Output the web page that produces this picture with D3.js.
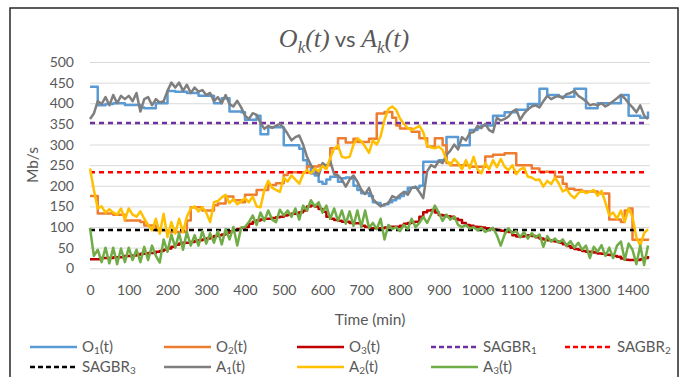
<!DOCTYPE html>
<html><head><meta charset="utf-8">
<script src="https://cdn.jsdelivr.net/npm/d3@7"></script>
<style>
body{margin:0;background:#fff;}
svg{display:block;}
</style></head><body>
<svg id="c" width="689" height="377"></svg>
<script>
// ---------- DATA ----------
const minutes = [
0,10,20,30,40,50,60,70,80,90,
100,110,120,130,140,150,160,170,180,190,
200,210,220,230,240,250,260,270,280,290,
300,310,320,330,340,350,360,370,380,390,
400,410,420,430,440,450,460,470,480,490,
500,510,520,530,540,550,560,570,580,590,
600,610,620,630,640,650,660,670,680,690,
700,710,720,730,740,750,760,770,780,790,
800,810,820,830,840,850,860,870,880,890,
900,910,920,930,940,950,960,970,980,990,
1000,1010,1020,1030,1040,1050,1060,1070,1080,1090,
1100,1110,1120,1130,1140,1150,1160,1170,1180,1190,
1200,1210,1220,1230,1240,1250,1260,1270,1280,1290,
1300,1310,1320,1330,1340,1350,1360,1370,1380,1390,
1400,1410,1420,1430,1440];

const o1 = [
440,440,395,395,398,398,400,400,400,396,
396,396,396,390,388,388,388,400,400,400,
430,430,428,428,428,425,425,425,418,418,
418,418,400,400,412,412,380,380,380,378,
360,360,360,370,325,325,342,342,342,342,
298,298,298,298,290,262,250,230,225,210,
205,215,222,222,210,218,220,218,200,190,
182,182,175,160,158,152,155,160,165,170,
175,185,195,195,195,200,258,258,258,258,
262,262,318,318,318,298,298,298,335,335,
340,346,346,346,370,370,370,378,378,378,
384,384,384,398,398,398,435,435,420,420,
420,416,416,416,416,435,435,435,388,388,
388,400,400,400,400,400,400,420,420,370,
370,370,365,365,380];

const o2 = [
175,175,133,133,133,133,130,130,130,116,
116,116,116,112,104,104,104,92,92,92,
88,88,88,88,88,116,148,148,148,140,
140,140,153,157,157,174,174,165,165,160,
178,178,178,190,190,190,202,202,206,206,
226,233,233,233,233,233,247,247,247,250,
250,250,291,291,315,315,305,305,314,306,
306,306,314,314,375,375,379,379,365,346,
339,339,339,331,331,315,315,295,295,315,
315,298,255,250,250,250,250,250,246,246,
246,246,271,271,275,275,275,279,279,279,
250,250,250,250,242,242,234,234,234,234,
222,222,205,193,193,190,190,186,186,186,
186,181,181,181,118,118,118,112,140,145,
69,69,69,69,72];

const o3 = [
22,22,22,25,25,25,27,27,27,30,
30,31,33,35,35,37,37,40,42,45,
48,52,57,60,62,62,64,66,68,70,
72,75,78,80,82,86,90,92,95,98,
100,108,113,116,118,120,120,122,124,125,
128,130,132,133,136,140,150,152,150,144,
137,125,120,117,115,113,113,110,109,109,
103,100,97,97,97,97,99,101,101,101,
103,108,110,112,113,125,136,140,141,135,
129,128,126,125,120,117,110,105,103,101,
100,99,97,95,94,93,91,89,88,80,
77,77,78,80,78,75,72,70,68,66,
65,62,58,54,50,47,45,42,40,40,
38,36,35,33,32,30,28,24,21,20,
20,20,22,25,30];

const a1 = [
362,375,405,398,415,395,420,400,418,410,
418,405,425,380,410,415,395,410,402,405,
430,450,438,450,430,445,425,438,428,432,
420,425,405,415,400,420,398,392,406,390,
370,362,376,372,352,338,345,340,345,350,
340,326,310,318,322,300,270,250,238,225,
255,248,260,228,225,215,198,215,225,210,
190,180,195,168,158,150,155,158,175,170,
178,185,178,195,198,185,170,235,250,245,
260,255,275,285,300,288,318,310,328,330,
345,340,350,335,330,365,358,362,368,380,
385,360,375,385,392,395,390,405,418,410,
415,418,412,422,425,430,418,412,405,395,
398,395,400,392,398,405,412,420,412,400,
390,378,395,370,362];

const a2 = [
242,190,145,150,135,143,135,130,145,118,
145,130,125,138,120,105,92,120,84,132,
76,112,84,120,88,125,145,150,138,148,
135,112,160,163,172,178,158,168,155,162,
170,160,174,150,148,190,212,195,190,185,
220,210,225,215,205,228,238,230,242,235,
248,240,268,290,298,270,268,270,300,315,
308,295,280,310,300,320,360,386,392,384,
363,350,340,335,340,345,330,298,293,291,
295,287,262,250,265,255,240,262,242,270,
240,230,255,240,262,245,265,246,238,250,
228,240,244,222,220,214,215,198,212,204,
220,205,186,192,178,170,182,188,182,186,
190,176,188,160,128,135,120,140,113,145,
125,75,55,85,95];

const a3 = [
98,30,45,15,50,12,50,10,48,15,
50,20,45,15,52,20,55,30,14,70,
40,82,50,85,45,88,55,80,55,90,
60,85,62,90,58,95,70,100,55,98,
100,112,128,105,135,115,140,118,112,142,
128,140,125,145,118,152,140,165,150,160,
135,152,120,145,115,140,108,138,103,140,
100,140,98,110,95,120,70,105,95,100,
90,105,95,120,100,110,125,110,130,152,
135,115,130,118,125,105,100,105,96,100,
92,98,88,93,98,80,55,82,97,85,
90,75,88,72,85,75,82,52,78,65,
72,62,70,55,66,50,62,45,55,25,
52,40,56,30,50,25,55,65,20,60,
45,10,55,8,55];

const sagbr = [352, 233, 93];

const xTicks = [0,100,200,300,400,500,600,700,800,900,1000,1100,1200,1300,1400];
const yTicks = [0,50,100,150,200,250,300,350,400,450,500];

// label parts: [base, subscript, suffix]
const labels = [
  ["O","1","(t)"],["O","2","(t)"],["O","3","(t)"],
  ["SAGBR","1",""],["SAGBR","2",""],["SAGBR","3",""],
  ["A","1","(t)"],["A","2","(t)"],["A","3","(t)"]
];
const colors = ["#5B9BD5","#ED7D31","#C00000","#7030A0","#FF0000","#000000","#7F7F7F","#FFC000","#70AD47"];

// ---------- CHART ----------
const svg = d3.select('#c');
const FONT = "Lato, 'Open Sans', sans-serif";
const TXT = "#595959";

svg.append('rect').attr('x',10).attr('y',8).attr('width',668).attr('height',420)
  .attr('fill','#fff').attr('stroke','#262626').attr('stroke-width',1.5);

const x = d3.scaleLinear().domain([0,1440]).range([90,648]);
const y = d3.scaleLinear().domain([0,500]).range([268.3,62]);

// y axis + gridlines
const gy = svg.append('g').attr('transform','translate(90,0)')
  .call(d3.axisLeft(y).tickValues(yTicks).tickSize(-560).tickPadding(16));
gy.select('.domain').remove();
gy.selectAll('line').attr('stroke','#d9d9d9').attr('stroke-width',1);
gy.selectAll('text').attr('fill',TXT).style('font-family',FONT).style('font-size','14px');

// x axis
const gx = svg.append('g').attr('transform','translate(0,268.3)')
  .call(d3.axisBottom(x).tickValues(xTicks).tickFormat(d3.format('d')).tickSize(0).tickPadding(17));
gx.select('.domain').remove();
gx.selectAll('text').attr('fill',TXT).style('font-family',FONT).style('font-size','14px');

// titles
svg.append('text').attr('x',370).attr('y',325).attr('text-anchor','middle')
  .attr('fill',TXT).style('font-family',FONT).style('font-size','15.5px').text('Time (min)');
svg.append('text').attr('transform','translate(38,165) rotate(-90)').attr('text-anchor','middle')
  .attr('fill',TXT).style('font-family',FONT).style('font-size','15.5px').text('Mb/s');

const title = svg.append('text').attr('x',344).attr('y',47).attr('text-anchor','middle')
  .attr('fill',TXT).style('font-size','26px');
const serif = "'Liberation Serif','DejaVu Serif',serif";
title.append('tspan').style('font-family',serif).style('font-style','italic').text('O');
title.append('tspan').style('font-family',serif).style('font-style','italic').style('font-size','17px').attr('dy',6).text('k');
title.append('tspan').style('font-family',serif).style('font-style','italic').attr('dy',-6).text('(t)');
title.append('tspan').style('font-family',FONT).style('font-size','22px').text(' vs ');
title.append('tspan').style('font-family',serif).style('font-style','italic').text('A');
title.append('tspan').style('font-family',serif).style('font-style','italic').style('font-size','17px').attr('dy',6).text('k');
title.append('tspan').style('font-family',serif).style('font-style','italic').attr('dy',-6).text('(t)');

// series
const stepLine = d3.line().x((d,i)=>x(minutes[i])).y(d=>y(d)).curve(d3.curveStepAfter);
const line = d3.line().x((d,i)=>x(minutes[i])).y(d=>y(d));
const plot = svg.append('g').attr('fill','none').attr('stroke-linejoin','round');

function drawSeries(vals, color, gen){
  plot.append('path').datum(vals).attr('d',gen).attr('stroke',color).attr('stroke-width',2.5);
}
drawSeries(o1, colors[0], stepLine);
drawSeries(o2, colors[1], stepLine);
drawSeries(o3, colors[2], stepLine);
sagbr.forEach((v,i)=>{
  plot.append('line').attr('x1',x(minutes[0])).attr('x2',x(minutes[minutes.length-1]))
    .attr('y1',y(v)).attr('y2',y(v)).attr('stroke',colors[3+i]).attr('stroke-width',2.5)
    .attr('stroke-dasharray','5,4');
});
drawSeries(a1, colors[6], line);
drawSeries(a2, colors[7], line);
drawSeries(a3, colors[8], line);

// legend
const colX = [30,164,297,431,565];
const rowY = [347,367];
labels.forEach((lb,i)=>{
  const r = i<5?0:1, c = i<5?i:i-5;
  const g = svg.append('g').attr('transform',`translate(${colX[c]},${rowY[r]})`);
  g.append('line').attr('x1',0).attr('x2',47).attr('y1',0).attr('y2',0)
    .attr('stroke',colors[i]).attr('stroke-width',2.5)
    .attr('stroke-dasharray', (i>=3&&i<=5)?'5,3':null);
  const t = g.append('text').attr('x',52).attr('y',5).attr('fill',TXT)
    .style('font-family',FONT).style('font-size','15px');
  t.append('tspan').text(lb[0]);
  t.append('tspan').style('font-size','10px').attr('dy',2).text(lb[1]);
  t.append('tspan').attr('dy',-2).text(lb[2]);
});
</script>
</body></html>
